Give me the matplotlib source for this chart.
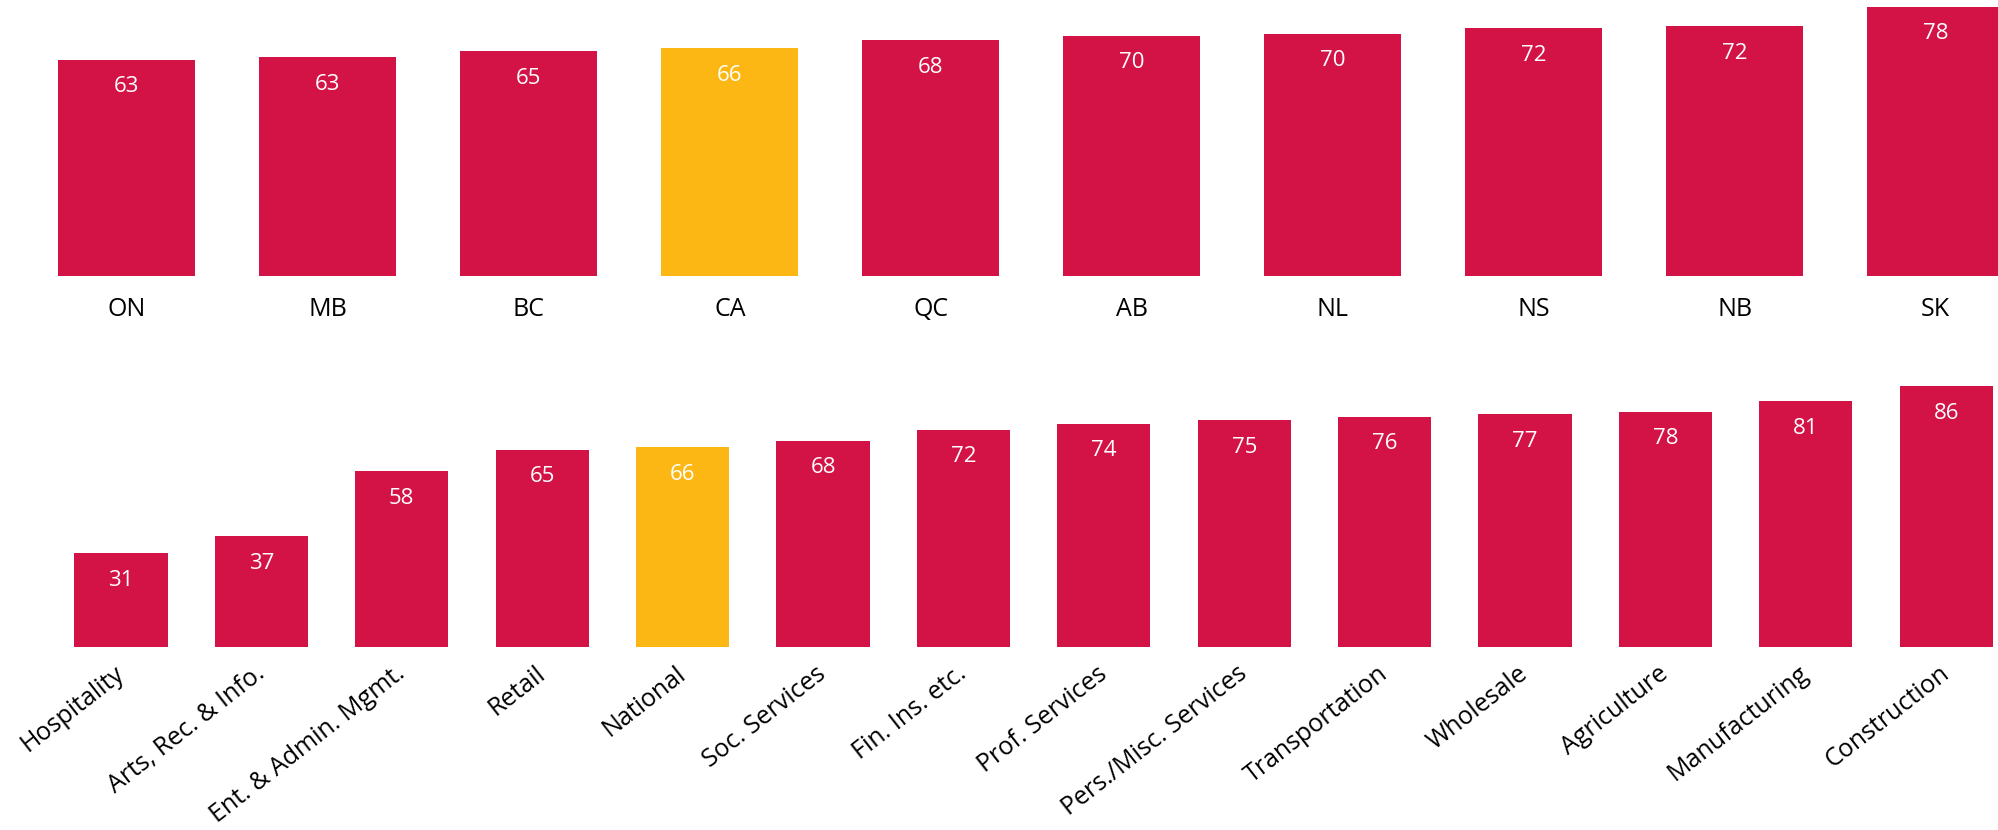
import matplotlib
matplotlib.use('Agg')
import matplotlib.pyplot as plt
from matplotlib.transforms import ScaledTranslation

# provinces (top panel)
provinces = ['ON', 'MB', 'BC', 'CA', 'QC', 'AB', 'NL', 'NS', 'NB', 'SK']
province_values = [62.6, 63.4, 65.1, 65.9, 68.3, 69.6, 70.2, 71.8, 72.4, 78.0]

# sectors (bottom panel)
sectors = ['Hospitality', 'Arts, Rec. & Info.', 'Ent. & Admin. Mgmt.', 'Retail',
           'National', 'Soc. Services', 'Fin. Ins. etc.', 'Prof. Services',
           'Pers./Misc. Services', 'Transportation', 'Wholesale', 'Agriculture',
           'Manufacturing', 'Construction']
sector_values = [31.0, 36.6, 57.9, 65.0, 65.9, 68.0, 71.7, 73.6, 74.8, 75.9,
                 76.8, 77.6, 81.0, 86.0]

highlight = ['CA', 'National']

RED = '#D31245'
YELLOW = '#FDB714'

plt.rcParams['font.family'] = ['Open Sans', 'DejaVu Sans']

W, H = 1998, 830
fig = plt.figure(figsize=(W / 100, H / 100), dpi=100)


def panel(rect, cats, vals, width, xlim, ylim, rotate):
    ax = fig.add_axes(rect)
    xs = list(range(len(cats)))
    colors = [YELLOW if c in highlight else RED for c in cats]
    ax.bar(xs, vals, width=width, color=colors)
    for x, v in zip(xs, vals):
        ax.annotate(f'{v:.0f}', (x, v), xytext=(0, -19.5), textcoords='offset points',
                    ha='center', va='center', color='white', fontsize=16)
    ax.set_xlim(*xlim)
    ax.set_ylim(*ylim)
    ax.set_xticks(xs)
    ax.set_yticks([])
    for s in ax.spines.values():
        s.set_visible(False)
    if rotate:
        ax.set_xticklabels(cats, fontsize=18, rotation=38, ha='right')
        ax.tick_params(axis='x', length=0, pad=10)
        shift = ScaledTranslation(8 / 100, 0, fig.dpi_scale_trans)
        for lab in ax.get_xticklabels():
            lab.set_transform(lab.get_transform() + shift)
    else:
        ax.set_xticklabels(cats, fontsize=18)
        ax.tick_params(axis='x', length=0, pad=14.5)
    return ax


# top: baseline at 276.5 px, 3.46 px per unit, 201 px spacing
top_base = 1 - 276.5 / H
panel([0, top_base, 1, 1 - top_base], provinces, province_values, 0.68,
      (-126.8 / 201, (W - 126.8) / 201), (0, 276.5 / 3.46), False)

# bottom: baseline at 647.3 px, 3.037 px per unit, 140.4 px spacing
bot_base = 1 - 647.3 / H
panel([0, bot_base, 1, 300 / H], sectors, sector_values, 0.663,
      (-121 / 140.4, (W - 121) / 140.4), (0, 300 / 3.037), True)

fig.savefig('out.png', dpi=100)
